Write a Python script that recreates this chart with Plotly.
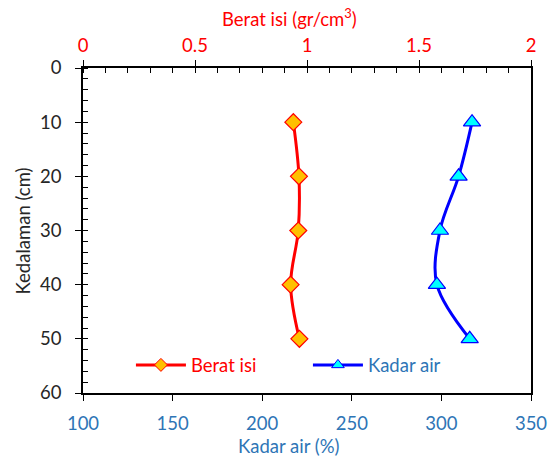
import plotly.graph_objects as go

depth = [10, 20, 30, 40, 50]
berat_isi = [0.939, 0.964, 0.961, 0.927, 0.966]
kadar_air = [317.1, 309.6, 299.2, 297.5, 315.8]

RED = "#FF0000"
BLUE_TXT = "#2E75B6"
FONT = "Lato"
FS = 18.5

fig = go.Figure()
fig.add_trace(go.Scatter(
    x=berat_isi, y=depth, xaxis="x2", yaxis="y", mode="lines+markers",
    name="Berat isi", showlegend=False,
    line=dict(color=RED, width=3, shape="spline"),
    marker=dict(symbol="diamond", size=13, color="#FFC000", line=dict(color=RED, width=1.2)),
))
fig.add_trace(go.Scatter(
    x=kadar_air, y=depth, xaxis="x", yaxis="y", mode="lines+markers",
    name="Kadar air", showlegend=False,
    line=dict(color="#0000FF", width=3, shape="spline"),
    marker=dict(symbol="triangle-up", size=15, color="#00FFFF", line=dict(color="#0000FF", width=1.2)),
))
# legend entries (smaller legend symbols as in the reference)
fig.add_trace(go.Scatter(
    x=[None], y=[None], xaxis="x2", yaxis="y", mode="lines+markers",
    name="<span style='color:#FF0000'>Berat isi</span>",
    line=dict(color=RED, width=3),
    marker=dict(symbol="diamond", size=10, color="#FFC000", line=dict(color=RED, width=1)),
))
fig.add_trace(go.Scatter(
    x=[None], y=[None], xaxis="x", yaxis="y", mode="lines+markers",
    name="<span style='color:#2E75B6'>Kadar air</span>",
    line=dict(color="#0000FF", width=3),
    marker=dict(symbol="triangle-up", size=11, color="#00FFFF", line=dict(color="#0000FF", width=1)),
))

fig.update_layout(
    width=556, height=456,
    margin=dict(l=83, r=25, t=68, b=63, autoexpand=False),
    paper_bgcolor="white", plot_bgcolor="white",
    font=dict(family=FONT, size=FS, color="#404040"),
    showlegend=True,
    legend=dict(orientation="h", x=0.107, y=0.085, xanchor="left", yanchor="middle",
                bgcolor="rgba(0,0,0,0)", font=dict(size=FS), entrywidth=112,
                itemwidth=50, tracegroupgap=0),
    xaxis=dict(
        range=[100, 350], dtick=50, tick0=100, showgrid=False, zeroline=False,
        showline=True, linecolor="black", linewidth=1.5, automargin=False,
        ticks="outside", ticklen=6, tickcolor="black", ticklabelstandoff=7,
        tickfont=dict(color=BLUE_TXT, size=FS),
    ),
    xaxis2=dict(
        range=[0, 2], dtick=0.5, tick0=0, overlaying="x", side="top", anchor="y",
        showgrid=False, zeroline=False, showline=True, linecolor="black", linewidth=1.5,
        automargin=False,
        ticks="outside", ticklen=6, tickcolor="black", ticklabelstandoff=1,
        minor=dict(dtick=0.1, ticks="inside", ticklen=5, tickcolor="black"),
        tickfont=dict(color=RED, size=FS),
    ),
    yaxis=dict(
        range=[60, 0], dtick=10, showgrid=False, zeroline=False,
        showline=True, linecolor="black", linewidth=1.5, mirror=True, automargin=False,
        ticks="outside", ticklen=6, tickcolor="black", ticklabelstandoff=10,
        minor=dict(dtick=2, ticks="inside", ticklen=5, tickcolor="black"),
        tickfont=dict(color="#262626", size=FS),
    ),
    annotations=[
        dict(text="Berat isi (gr/cm<sup>3</sup>)", xref="paper", yref="paper", x=0.46, y=1.154,
             xanchor="center", yanchor="middle", showarrow=False, font=dict(color=RED, size=FS)),
        dict(text="Kadar air (%)", xref="paper", yref="paper", x=0.46, y=-0.163,
             xanchor="center", yanchor="middle", showarrow=False, font=dict(color=BLUE_TXT, size=FS)),
        dict(text="Kedalaman (cm)", xref="paper", yref="paper", x=-0.134, y=0.5, textangle=-90,
             xanchor="center", yanchor="middle", showarrow=False, font=dict(color="#262626", size=FS)),
    ],
)

fig.write_html("out.html")
